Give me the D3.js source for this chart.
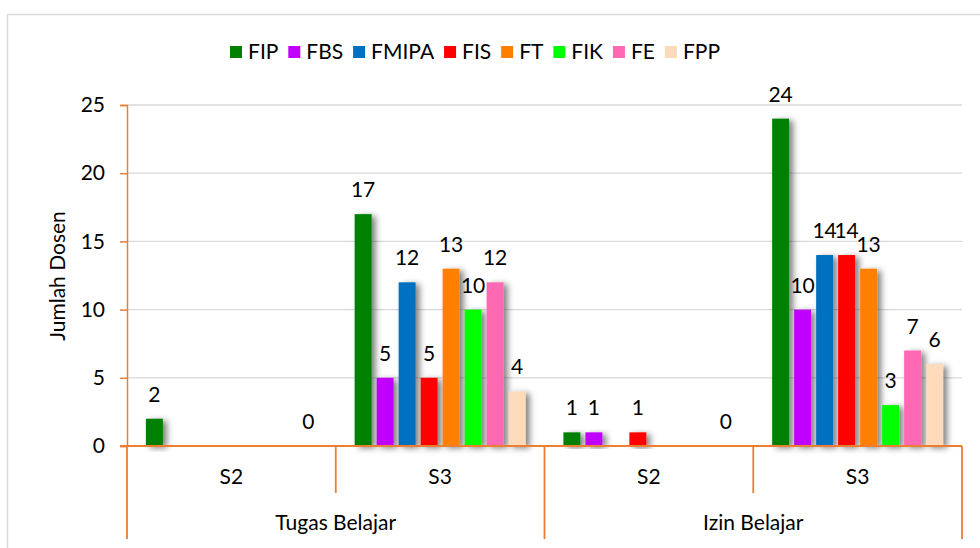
<!DOCTYPE html>
<html>
<head>
<meta charset="utf-8">
<script src="https://cdn.jsdelivr.net/npm/d3@7"></script>
<style>
  html, body { margin: 0; padding: 0; background: #fff; }
  text { font-family: Lato, "Noto Sans", sans-serif; fill: #000; }
</style>
</head>
<body>
<div id="chart"></div>
<script>
// data
const series = ["FIP", "FBS", "FMIPA", "FIS", "FT", "FIK", "FE", "FPP"];
const groups = ["Tugas Belajar", "Izin Belajar"];
const levels = ["S2", "S3"];
const tugasS2 = [2, null, null, null, null, null, null, 0];
const tugasS3 = [17, 5, 12, 5, 13, 10, 12, 4];
const izinS2 = [1, 1, null, 1, null, null, null, 0];
const izinS3 = [24, 10, 14, 14, 13, 3, 7, 6];
const yTicks = [0, 5, 10, 15, 20, 25];

const colors = ["#008000", "#BF00FF", "#0070C0", "#FF0000", "#FF8000", "#00FF00", "#FF69B4", "#FDDAB9"];
const axisColor = "#ED7D31";
const fontSize = 21;

const chartWidth = 980, chartHeight = 548;
const plotLeft = 127, plotRight = 962, plotTop = 105, plotBottom = 446;

// one row per sub category
const rows = [
    { group: groups[0], level: levels[0], values: tugasS2 },
    { group: groups[0], level: levels[1], values: tugasS3 },
    { group: groups[1], level: levels[0], values: izinS2 },
    { group: groups[1], level: levels[1], values: izinS3 }
];
rows.forEach((r, i) => r.key = i);

const svg = d3.select("#chart").append("svg")
    .attr("width", chartWidth)
    .attr("height", chartHeight);

// drop shadow for bars
const defs = svg.append("defs");
defs.append("filter")
    .attr("id", "shadow")
    .attr("x", "-50%").attr("y", "-20%")
    .attr("width", "220%").attr("height", "140%")
    .append("feDropShadow")
    .attr("dx", 4)
    .attr("dy", 2)
    .attr("stdDeviation", 3)
    .attr("flood-color", "#000")
    .attr("flood-opacity", 0.5);

// chart border
svg.append("rect")
    .attr("x", 7.5)
    .attr("y", 14.5)
    .attr("width", 1000)
    .attr("height", 600)
    .attr("fill", "#fff")
    .attr("stroke", "#d9d9d9")
    .attr("stroke-width", 1.5);

const x0 = d3.scaleBand()
    .domain(rows.map(d => d.key))
    .range([plotLeft, plotRight]);

const x1 = d3.scaleBand()
    .domain(series)
    .range([0, x0.bandwidth()])
    .paddingInner(0.23)
    .paddingOuter(0.86);

const y = d3.scaleLinear()
    .domain([0, 25])
    .range([plotBottom, plotTop]);

// gridlines
svg.append("g")
    .selectAll("line")
    .data(yTicks.filter(t => t > 0))
    .join("line")
    .attr("x1", plotLeft)
    .attr("x2", plotRight)
    .attr("y1", d => y(d))
    .attr("y2", d => y(d))
    .attr("stroke", "#d9d9d9")
    .attr("stroke-width", 1.3);

// y axis
const yAxis = svg.append("g")
    .attr("transform", `translate(${plotLeft},0)`)
    .call(d3.axisLeft(y).tickValues(yTicks).tickSize(7).tickPadding(15));
yAxis.select(".domain").attr("stroke", axisColor).attr("stroke-width", 1.5);
yAxis.selectAll(".tick line").attr("stroke", axisColor).attr("stroke-width", 1.5);
yAxis.selectAll(".tick text")
    .attr("font-size", fontSize)
    .attr("font-family", "Lato, sans-serif")
    .attr("fill", "#000");

svg.append("text")
    .attr("transform", `translate(65,276) rotate(-90)`)
    .attr("text-anchor", "middle")
    .attr("font-size", fontSize)
    .text("Jumlah Dosen");

// bars
const rowG = svg.append("g")
    .selectAll("g")
    .data(rows)
    .join("g")
    .attr("transform", d => `translate(${x0(d.key)},0)`);

rowG.selectAll("rect")
    .data(d => d.values.map((v, i) => ({ name: series[i], value: v, color: colors[i] })).filter(b => b.value > 0))
    .join("rect")
    .attr("x", d => x1(d.name))
    .attr("width", x1.bandwidth())
    .attr("y", d => y(d.value))
    .attr("height", d => y(0) - y(d.value))
    .attr("fill", d => d.color)
    .attr("filter", "url(#shadow)");

rowG.selectAll("text")
    .data(d => d.values.map((v, i) => ({ name: series[i], value: v })).filter(b => b.value !== null))
    .join("text")
    .attr("x", d => x1(d.name) + x1.bandwidth() / 2)
    .attr("y", d => y(d.value) - 17)
    .attr("text-anchor", "middle")
    .attr("font-size", fontSize)
    .text(d => d.value);

// category axis
const axisG = svg.append("g")
    .attr("stroke", axisColor)
    .attr("stroke-width", 1.8);

axisG.append("line")
    .attr("x1", plotLeft - 7)
    .attr("x2", plotRight)
    .attr("y1", plotBottom)
    .attr("y2", plotBottom);

const bounds = rows.map(d => x0(d.key)).concat([plotRight]);
axisG.selectAll(".sep")
    .data(bounds)
    .join("line")
    .attr("class", "sep")
    .attr("x1", d => d)
    .attr("x2", d => d)
    .attr("y1", plotBottom)
    .attr("y2", (d, i) => i % 2 === 0 ? 539 : 493);

svg.append("g")
    .selectAll("text")
    .data(rows)
    .join("text")
    .attr("x", d => x0(d.key) + x0.bandwidth() / 2)
    .attr("y", 484)
    .attr("text-anchor", "middle")
    .attr("font-size", fontSize)
    .text(d => d.level);

svg.append("g")
    .selectAll("text")
    .data(groups)
    .join("text")
    .attr("x", (d, i) => x0(i * 2) + x0.bandwidth())
    .attr("y", 530)
    .attr("text-anchor", "middle")
    .attr("font-size", fontSize)
    .text(d => d);

// legend, laid out from text widths between x=230 and x=720
const legend = svg.append("g");
const legendItems = series.map((s, i) => {
    const item = legend.append("g");
    item.append("rect")
        .attr("x", 0)
        .attr("y", 46)
        .attr("width", 12)
        .attr("height", 12)
        .attr("fill", colors[i]);
    const t = item.append("text")
        .attr("x", 18)
        .attr("y", 59)
        .attr("font-size", fontSize)
        .text(s);
    return { item, w: 18 + t.node().getComputedTextLength() };
});
const used = d3.sum(legendItems, d => d.w);
const gap = (720 - 230 - used) / (series.length - 1);
let lx = 230;
legendItems.forEach(d => {
    d.item.attr("transform", `translate(${lx},0)`);
    lx += d.w + gap;
});
</script>
</body>
</html>
